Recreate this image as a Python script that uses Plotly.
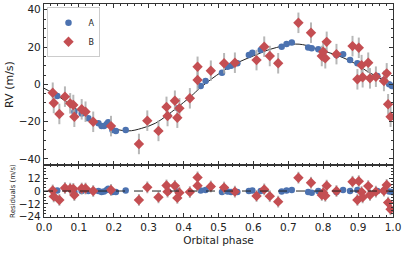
import plotly.graph_objects as go
from plotly.subplots import make_subplots

# ---- data ----
phase_A = [0.038, 0.087, 0.108, 0.127, 0.156, 0.165, 0.172, 0.180, 0.184, 0.196, 0.206, 0.234,
           0.356, 0.384, 0.449, 0.463, 0.510, 0.526, 0.536, 0.554, 0.587, 0.597, 0.621,
           0.681, 0.695, 0.710, 0.757, 0.767, 0.786, 0.838, 0.857, 0.877, 0.898, 0.955,
           0.974, 0.989, 0.997]
rv_A = [-6.3, -14.7, -15.6, -18.2, -20.9, -22.4, -22.4, -21.3, -20.3, -24.5, -25.0, -24.5,
        -16.8, -12.8, -0.9, 1.8, 6.2, 9.4, 10.0, 11.3, 15.7, 16.9, 18.4,
        20.2, 21.6, 22.5, 19.8, 19.3, 18.8, 15.7, 16.1, 13.0, 11.3, 4.5,
        2.3, 0.0, -0.9]
res_A = [0.5, -1.0, 0.0, 0.0, 0.0, -1.0, -0.5, 1.0, 2.0, -1.0, -1.0, 0.5,
         -0.5, -0.5, 0.5, 1.0, -1.0, -0.5, -1.0, -1.0, 0.0, 0.5, 0.0,
         -0.5, 0.5, 1.0, -1.0, -1.5, 0.0, -1.0, 1.0, 0.0, 1.0, 0.0,
         0.3, -0.5, -1.0]
err_A = [1.3] * len(phase_A)

phase_B = [0.025, 0.028, 0.044, 0.060, 0.075, 0.084, 0.087, 0.108, 0.119, 0.141, 0.192,
           0.272, 0.296, 0.328, 0.351, 0.354, 0.375, 0.382, 0.388, 0.418, 0.440, 0.440,
           0.478, 0.516, 0.547, 0.609, 0.631, 0.647, 0.671, 0.729, 0.765, 0.796, 0.800,
           0.810, 0.806, 0.838, 0.884, 0.902, 0.898, 0.910, 0.913, 0.929, 0.934, 0.951,
           0.974, 0.982, 0.986, 0.993]
rv_B = [-4.5, -10.0, -15.9, -6.6, -10.2, -11.1, -17.4, -13.4, -14.7, -20.1, -22.4,
        -32.0, -19.5, -25.0, -12.1, -17.0, -8.8, -17.9, -12.9, -7.5, 9.4, 2.3,
        7.3, 11.3, 11.6, 13.0, 20.2, 15.2, 11.3, 33.0, 27.7, 15.2, 17.5,
        22.8, 14.0, 16.2, 20.5, 19.6, 2.7, 10.3, 3.8, 11.6, 3.2, 4.1,
        1.8, 5.9, -10.7, -17.4]
res_B = [0.5, -5.0, -8.3, 2.8, 2.2, 2.0, -3.8, 2.3, 2.3, 0.0, 1.0,
         -8.3, 3.4, -5.9, 5.2, -0.6, 4.8, -6.4, -1.5, -1.0, 12.7, 5.0,
         4.2, 3.2, -0.6, -4.6, 1.5, -4.8, -9.9, 12.4, 7.7, -3.7, -1.5,
         5.0, -4.5, 0.0, 8.6, 9.2, -8.3, -1.0, -5.9, 4.6, -3.7, -0.6,
         0.3, 5.6, -10.8, -17.0]
err_B = [5.5] * len(phase_B)

model_phase = [0.0, 0.04, 0.08, 0.13, 0.18, 0.24, 0.28, 0.32, 0.35, 0.38, 0.42, 0.45,
               0.51, 0.56, 0.61, 0.65, 0.72, 0.76, 0.79, 0.84, 0.89, 0.93, 0.97, 1.0]
model_rv = [-2.1, -6.3, -11.5, -18.2, -22.7, -25.0, -23.6, -20.8, -17.0, -12.7, -6.6, -1.5,
            6.8, 12.1, 16.0, 18.9, 21.6, 20.5, 18.4, 15.6, 11.3, 6.5, 2.5, -1.8]

blue = "#4C72B0"
red = "#C44E52"
ebar = "rgba(170,170,170,0.85)"
FONT = "DejaVu Sans"

fig = make_subplots(rows=2, cols=1, shared_xaxes=True, vertical_spacing=0,
                    row_heights=[0.756, 0.244])

fig.add_trace(go.Scatter(x=model_phase, y=model_rv, mode="lines",
                         line=dict(color="#222222", width=1, shape="spline", smoothing=1.0),
                         showlegend=False, hoverinfo="skip"), row=1, col=1)

fig.add_trace(go.Scatter(x=phase_A, y=rv_A, mode="markers", name="A",
                         marker=dict(symbol="circle", size=6.5, color=blue),
                         error_y=dict(type="data", array=err_A, color=ebar, thickness=2, width=0)),
              row=1, col=1)
fig.add_trace(go.Scatter(x=phase_B, y=rv_B, mode="markers", name="B",
                         marker=dict(symbol="diamond", size=8, color=red),
                         error_y=dict(type="data", array=err_B, color=ebar, thickness=2, width=0)),
              row=1, col=1)

fig.add_trace(go.Scatter(x=phase_A, y=res_A, mode="markers", showlegend=False,
                         marker=dict(symbol="circle", size=6.5, color=blue),
                         error_y=dict(type="data", array=err_A, color=ebar, thickness=2, width=0)),
              row=2, col=1)
fig.add_trace(go.Scatter(x=phase_B, y=res_B, mode="markers", showlegend=False,
                         marker=dict(symbol="diamond", size=8, color=red),
                         error_y=dict(type="data", array=err_B, color=ebar, thickness=2, width=0)),
              row=2, col=1)

fig.add_hline(y=0, line=dict(color="#222222", width=1, dash="dash"), row=2, col=1)

axcommon = dict(showline=True, linecolor="#333333", linewidth=1.2, mirror="allticks",
                ticks="inside", ticklen=4, tickwidth=1, tickcolor="#333333",
                showgrid=False, zeroline=False, automargin=False,
                tickfont=dict(family=FONT, size=10.5, color="#222222"))

fig.update_xaxes(**axcommon, range=[0, 1], dtick=0.1, tickformat=".1f",
                 minor=dict(dtick=0.02, ticks="inside", ticklen=2, tickcolor="#333333"))
fig.update_xaxes(showticklabels=False, row=1, col=1)
fig.update_xaxes(title=dict(text="Orbital phase", font=dict(family=FONT, size=10.5, color="#222222"),
                            standoff=4), row=2, col=1)

fig.update_yaxes(**axcommon)
fig.update_yaxes(range=[-43.3, 43.1], tickvals=[-40, -20, 0, 20, 40],
                 minor=dict(dtick=5, ticks="inside", ticklen=2, tickcolor="#333333"),
                 title=dict(text="RV (m/s)", font=dict(family=FONT, size=11, color="#222222"),
                            standoff=2), row=1, col=1)
fig.update_yaxes(range=[-24.2, 24.2], tickvals=[-24, -12, 0, 12],
                 minor=dict(dtick=3, ticks="inside", ticklen=2, tickcolor="#333333"),
                 title=dict(text="Residuals (m/s)", font=dict(family=FONT, size=7, color="#222222"),
                            standoff=2), row=2, col=1)

fig.update_layout(
    width=407, height=254,
    margin=dict(l=44, r=14, t=4, b=37),
    paper_bgcolor="white", plot_bgcolor="white",
    font=dict(family=FONT, size=10.5, color="#222222"),
    legend=dict(x=0.01, y=0.985, xanchor="left", yanchor="top",
                bgcolor="rgba(255,255,255,0.9)", bordercolor="#cccccc", borderwidth=1,
                font=dict(family=FONT, size=8), itemwidth=30, tracegroupgap=0),
    showlegend=True,
)

fig.write_html("out.html", config={"displayModeBar": False},
               post_script="document.body.style.margin='0px';")
